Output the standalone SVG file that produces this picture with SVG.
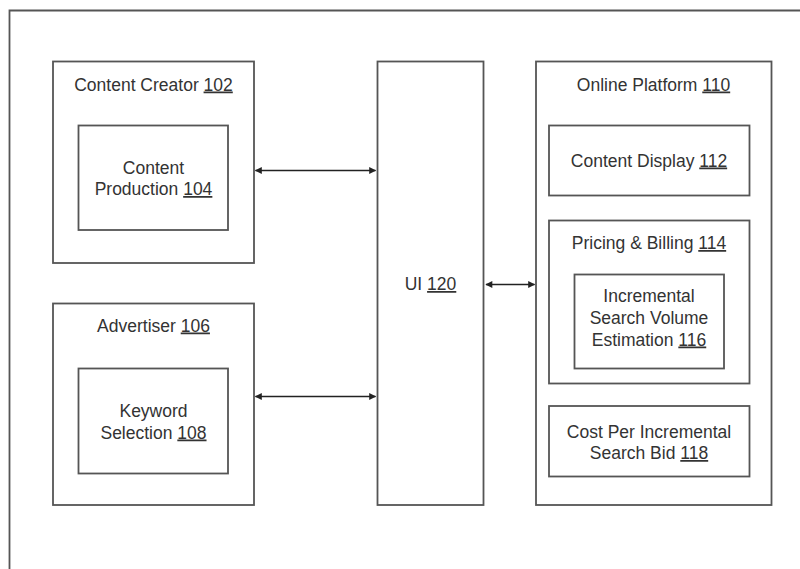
<svg xmlns="http://www.w3.org/2000/svg" width="800" height="569" viewBox="0 0 800 569">
<defs>
<style>
.box{fill:#fff;stroke:#555;stroke-width:1.8}
.t{font-family:"Liberation Sans",Arial,sans-serif;font-size:17.5px;fill:#333;text-anchor:middle}
.u{text-decoration:underline}
.c{stroke:#222;stroke-width:1.6;fill:none;marker-start:url(#ah);marker-end:url(#ah)}
</style>
<marker id="ah" viewBox="0 0 10 10" refX="9" refY="5" markerWidth="9" markerHeight="7" markerUnits="userSpaceOnUse" orient="auto-start-reverse">
<path d="M0,0 L10,5 L0,10 Z" fill="#222"/>
</marker>
</defs>
<rect width="800" height="569" fill="#fff"/>
<path d="M9.5,569 V10.5 H800" fill="none" stroke="#555" stroke-width="1.8"/>

<g id="content-creator">
<rect class="box" x="53" y="61.5" width="201" height="201.5"/>
<text class="t" x="153.5" y="90.5">Content Creator <tspan class="u">102</tspan></text>
</g>
<g id="content-production">
<rect class="box" x="78.5" y="125.5" width="149.5" height="104.5"/>
<text class="t" x="153.5" y="173.5">Content</text>
<text class="t" x="153.5" y="195">Production <tspan class="u">104</tspan></text>
</g>
<g id="advertiser">
<rect class="box" x="53" y="303.5" width="201" height="201.5"/>
<text class="t" x="153.5" y="331.5">Advertiser <tspan class="u">106</tspan></text>
</g>
<g id="keyword-selection">
<rect class="box" x="78.5" y="368.5" width="149.5" height="105"/>
<text class="t" x="153.5" y="416.5">Keyword</text>
<text class="t" x="153.5" y="438.5">Selection <tspan class="u">108</tspan></text>
</g>
<g id="ui">
<rect class="box" x="377.5" y="61.5" width="106" height="443.5"/>
<text class="t" x="430.5" y="290">UI <tspan class="u">120</tspan></text>
</g>
<g id="online-platform">
<rect class="box" x="536" y="61.5" width="235.5" height="443.5"/>
<text class="t" x="653.5" y="90.5">Online Platform <tspan class="u">110</tspan></text>
</g>
<g id="content-display">
<rect class="box" x="549" y="125.5" width="200.5" height="70"/>
<text class="t" x="649" y="166.5">Content Display <tspan class="u">112</tspan></text>
</g>
<g id="pricing-billing">
<rect class="box" x="549" y="220.5" width="200.5" height="163"/>
<text class="t" x="649" y="249">Pricing &amp; Billing <tspan class="u">114</tspan></text>
</g>
<g id="incremental-estimation">
<rect class="box" x="574.5" y="274.5" width="149.5" height="94"/>
<text class="t" x="649" y="301.5">Incremental</text>
<text class="t" x="649" y="323.5">Search Volume</text>
<text class="t" x="649" y="345.5">Estimation <tspan class="u">116</tspan></text>
</g>
<g id="cost-per-bid">
<rect class="box" x="549" y="406" width="200.5" height="70.5"/>
<text class="t" x="649" y="437.5">Cost Per Incremental</text>
<text class="t" x="649" y="459">Search Bid <tspan class="u">118</tspan></text>
</g>

<g id="connectors">
<line class="c" x1="255.5" y1="170.5" x2="375.5" y2="170.5"/>
<line class="c" x1="255.5" y1="396.5" x2="375.5" y2="396.5"/>
<line class="c" x1="486" y1="284.5" x2="534.5" y2="284.5"/>
</g>
</svg>
